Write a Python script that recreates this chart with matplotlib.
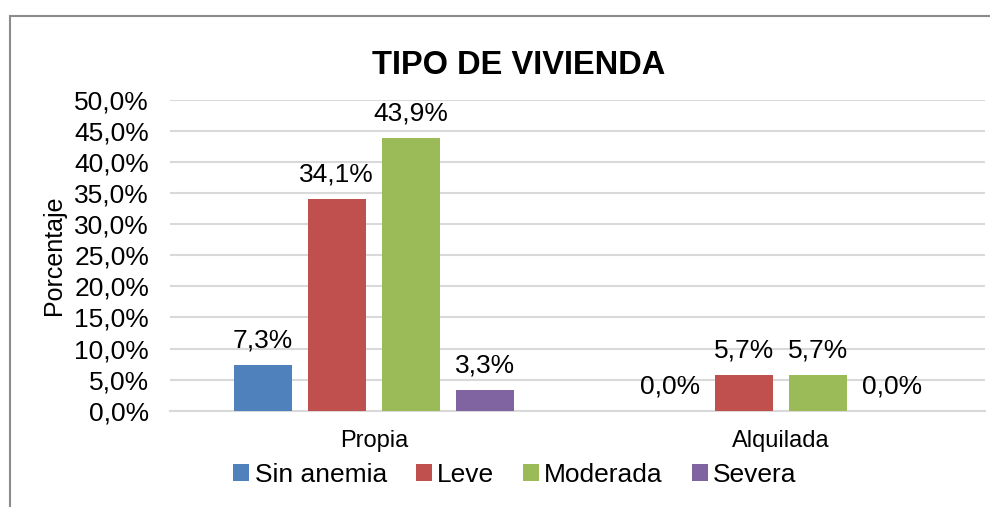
import matplotlib
matplotlib.use("Agg")
import matplotlib.pyplot as plt
from matplotlib.patches import Rectangle
import numpy as np

plt.rcParams['font.family'] = ['Liberation Sans', 'DejaVu Sans']

categories = ["Propia", "Alquilada"]
series = ["Sin anemia", "Leve", "Moderada", "Severa"]
values = {
    "Sin anemia": [7.3, 0.0],
    "Leve": [34.1, 5.7],
    "Moderada": [43.9, 5.7],
    "Severa": [3.3, 0.0],
}
colors = ["#4F81BD", "#C0504D", "#9BBB59", "#8064A2"]
yticks = [0, 5, 10, 15, 20, 25, 30, 35, 40, 45, 50]

W, H = 990, 507
fig = plt.figure(figsize=(W / 100, H / 100), dpi=100)
ax = fig.add_axes([170 / W, 1 - 410.7 / H, (985 - 170) / W, (410.7 - 100) / H])

# chart frame (extends past right/bottom edge as in the reference)
fig.patches.append(Rectangle((9.5 / W, -0.1), 1.2, 1 - 16 / H + 0.1,
                             transform=fig.transFigure, fill=False,
                             edgecolor="#8c8c8c", linewidth=1.5))

x = np.arange(len(categories))
step = 74 / 407.5
width = 58 / 407.5
for i, (s, c) in enumerate(zip(series, colors)):
    pos = x + (i - 1.5) * step
    bars = ax.bar(pos, values[s], width=width, color=c, label=s, zorder=3)
    for b, v in zip(bars, values[s]):
        ax.annotate(f"{v:.1f}%".replace(".", ","),
                    (b.get_x() + b.get_width() / 2, v),
                    xytext=(0, 12.5), textcoords="offset points",
                    ha="center", va="baseline", fontsize=19)

ax.set_xlim(-0.5, 1.5)
ax.set_ylim(0, 50)
ax.set_yticks(yticks)
ax.set_yticklabels([f"{t:.1f}%".replace(".", ",") for t in yticks], fontsize=19)
ax.set_xticks(x)
ax.set_xticklabels(categories, fontsize=17)
ax.tick_params(axis="y", length=0, pad=15)
ax.tick_params(axis="x", length=0, pad=14)
ax.grid(axis="y", color="#d9d9d9", linewidth=1.5, zorder=0)
for sp in ["top", "right", "left"]:
    ax.spines[sp].set_visible(False)
ax.spines["bottom"].set_color("#d9d9d9")
ax.spines["bottom"].set_linewidth(1.5)
ax.set_ylabel("Porcentaje", fontsize=18, labelpad=6)

fig.text(519 / W, 1 - 65 / H, "TIPO DE VIVIENDA", ha="center", va="center",
         fontsize=23.5, fontweight="bold")

fig.legend(loc="center", bbox_to_anchor=(515 / W, 1 - 475 / H), ncol=4,
           frameon=False, fontsize=19, handlelength=0.6, handleheight=0.6,
           handletextpad=0.2, columnspacing=1.1)

fig.savefig("out.png", dpi=100)
